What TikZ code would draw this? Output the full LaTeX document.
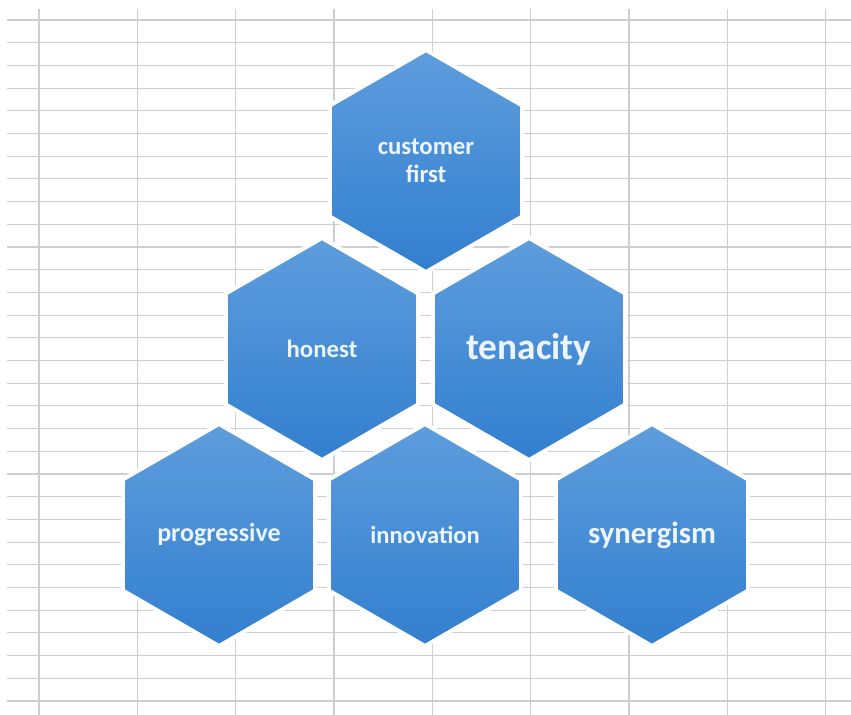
\documentclass[tikz,border=0pt]{standalone}
\usepackage{fontspec}
\setmainfont{Carlito}
\usepackage{tikz}
\usetikzlibrary{shapes.geometric}
\definecolor{hexlight}{RGB}{94,157,221}
\definecolor{hexdark}{RGB}{50,127,207}
\definecolor{hextext}{RGB}{236,245,252}
\definecolor{gridgray}{RGB}{206,206,206}

\begin{document}
\begin{tikzpicture}[
        x=0.75pt, y=-0.75pt,
        hexbox/.style={regular polygon, regular polygon sides=6, shape border rotate=30,
            minimum size=166.5pt, inner sep=0pt, top color=hexlight, bottom color=hexdark,
            draw=white, line width=3pt, text=hextext, align=center, font=\bfseries}
    ]
        % Canvas
        \fill[white] (0,0) rectangle (851,715);
        \useasboundingbox (0,0) rectangle (851,715);

        % Spreadsheet grid
        \foreach \k in {0,...,30}
            \draw[gridgray, line width=0.85pt] (7,20+22.7*\k) -- (851,20+22.7*\k);
        \foreach \k in {0,...,8}
            \draw[gridgray, line width=0.85pt] (39+98.33*\k,9) -- (39+98.33*\k,715);

        % Top row
        \node[hexbox, font=\bfseries\fontsize{18.6}{21}\selectfont] (customer) at (426,161) {customer\\first};

        % Middle row
        \node[hexbox, font=\bfseries\fontsize{18.6}{22}\selectfont] (honest) at (322,349) {honest};
        \node[hexbox, font=\bfseries\fontsize{28}{34}\selectfont] (tenacity) at (529,349) {tenacity};

        % Bottom row
        \node[hexbox, font=\bfseries\fontsize{19.5}{23}\selectfont] (progressive) at (219,535) {progressive};
        \node[hexbox, font=\bfseries\fontsize{18.4}{22}\selectfont] (innovation) at (425,535) {innovation};
        \node[hexbox, font=\bfseries\fontsize{23}{27}\selectfont] (synergism) at (652,535) {synergism};
    \end{tikzpicture}
\end{document}
